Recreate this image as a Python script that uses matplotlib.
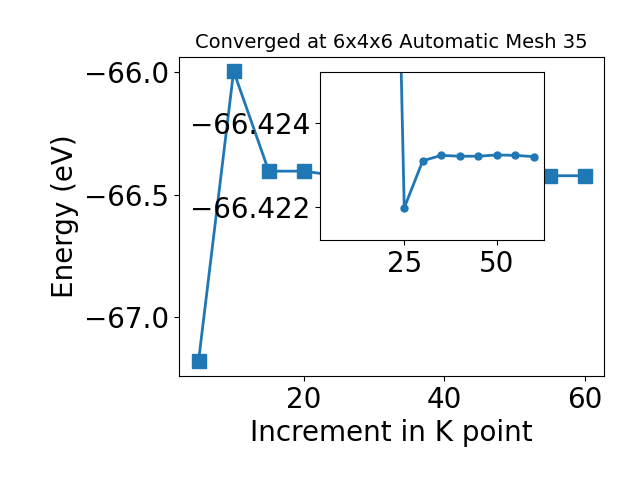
import matplotlib
matplotlib.use("Agg")
from matplotlib import pyplot as plt

# k-point increment and total energy (eV)
kpoints = [5, 10, 15, 20, 25, 30, 35, 40, 45, 50, 55, 60]
energy = [-67.18, -65.996, -66.404, -66.404, -66.42403, -66.42290,
          -66.42277, -66.42279, -66.42279, -66.42276, -66.42277, -66.42280]

inset_start = 2  # inset only shows the converging tail
inset_ylim = (-66.4248, -66.42077)
inset_yticks = [-66.424, -66.422]
inset_yticklabels = ['\u221266.422', '\u221266.424']
inset_xticks = [25, 50]

fig = plt.figure(figsize=(6.4, 4.8), dpi=100)
ax = fig.add_axes([0.28, 0.217, 0.664, 0.665])
ax.plot(kpoints, energy, marker='s', markersize=10, linewidth=2, color='#1f77b4')
ax.set_xticks([20, 40, 60])
ax.set_yticks([-67.0, -66.5, -66.0])
ax.tick_params(labelsize=20)
ax.set_xlabel("Increment in K point", fontsize=20)
ax.set_ylabel("Energy (eV)", fontsize=20)
ax.set_title("Converged at 6x4x6 Automatic Mesh 35", fontsize=14)

# zoomed inset
axins = fig.add_axes([0.5, 0.5, 0.35, 0.35])
axins.plot(kpoints[inset_start:], energy[inset_start:], marker='o', markersize=5,
           linewidth=2, color='#1f77b4')
axins.set_xlim(ax.get_xlim())
axins.set_ylim(inset_ylim)
axins.set_yticks(inset_yticks)
axins.set_yticklabels(inset_yticklabels)
axins.set_xticks(inset_xticks)
axins.tick_params(labelsize=20)

fig.savefig("out.png", dpi=100)
